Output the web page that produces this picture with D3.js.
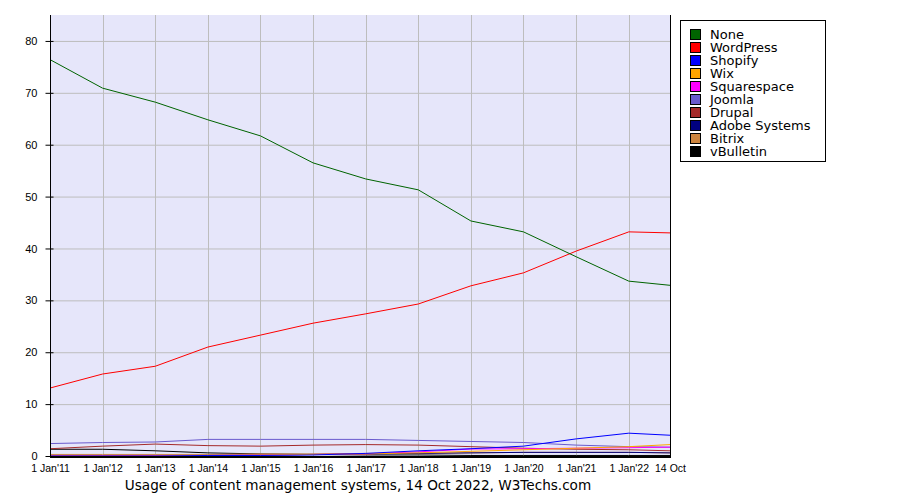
<!DOCTYPE html>
<html>
<head>
<meta charset="utf-8">
<script src="https://cdn.jsdelivr.net/npm/d3@7"></script>
<style>
body { margin: 0; background: #fff; }
svg { display: block; }
</style>
</head>
<body>
<svg id="chart" width="900" height="500"></svg>
<script>
const dates = ["2011-01-01","2012-01-01","2013-01-01","2014-01-01","2015-01-01","2016-01-01","2017-01-01","2018-01-01","2019-01-01","2020-01-01","2021-01-01","2022-01-01","2022-10-14"];
const tickLabels = ["1 Jan'11","1 Jan'12","1 Jan'13","1 Jan'14","1 Jan'15","1 Jan'16","1 Jan'17","1 Jan'18","1 Jan'19","1 Jan'20","1 Jan'21","1 Jan'22","14 Oct"];
const yTicks = [0,10,20,30,40,50,60,70,80];
const seriesNames = ["None","WordPress","Shopify","Wix","Squarespace","Joomla","Drupal","Adobe Systems","Bitrix","vBulletin"];
const seriesColors = ["#006400","#ff0000","#0000ff","#ffa500","#ff00ff","#6a5acd","#a52a2a","#000080","#cd853f","#000000"];
const none        = [76.4,70.9,68.2,64.8,61.7,56.5,53.4,51.3,45.3,43.2,38.4,33.7,32.9];
const wordpress   = [13.1,15.8,17.3,21.0,23.3,25.6,27.4,29.3,32.8,35.3,39.5,43.2,43.0];
const shopify     = [0.0,0.0,0.0,0.1,0.1,0.2,0.5,1.0,1.4,1.9,3.3,4.4,4.0];
const wix         = [0.0,0.0,0.0,0.1,0.2,0.3,0.4,0.6,0.9,1.2,1.5,1.8,2.2];
const squarespace = [0.1,0.1,0.1,0.1,0.2,0.3,0.4,0.8,1.35,1.4,1.5,1.6,1.7];
const joomla      = [2.4,2.6,2.7,3.2,3.2,3.2,3.2,3.0,2.8,2.6,2.1,1.8,1.7];
const drupal      = [1.4,1.9,2.3,2.0,1.9,2.1,2.2,2.1,1.8,1.5,1.3,1.2,1.0];
const adobe       = [0.0,0.0,0.0,0.1,0.2,0.3,0.4,0.5,0.6,0.7,0.7,0.7,0.6];
const bitrix      = [0.3,0.3,0.3,0.3,0.4,0.4,0.5,0.5,0.6,0.7,0.7,0.7,0.6];
const vbulletin   = [1.3,1.3,1.0,0.6,0.4,0.3,0.2,0.2,0.1,0.1,0.1,0.1,0.1];
const seriesValues = [none,wordpress,shopify,wix,squarespace,joomla,drupal,adobe,bitrix,vbulletin];
const title = "Usage of content management systems, 14 Oct 2022, W3Techs.com";

const parse = d3.timeParse("%Y-%m-%d");
const xDates = dates.map(parse);
const svg = d3.select("#chart");
const L = 50, R = 670, T = 15, B = 456;
const x = d3.scaleTime().domain([xDates[0], xDates[xDates.length-1]]).range([L, R]);
const y = d3.scaleLinear().domain([0, 85]).range([B, T]);

svg.append("rect").attr("x", L).attr("y", T).attr("width", R-L).attr("height", B-T).attr("fill", "#e6e6fa");

// grid
svg.append("g").selectAll("line").data(yTicks.slice(1)).join("line")
  .attr("x1", L).attr("x2", R).attr("y1", d => y(d)+0.5).attr("y2", d => y(d)+0.5)
  .attr("stroke", "#bdbdbd").attr("stroke-width", 1);
svg.append("g").selectAll("line").data(xDates.slice(1, -1)).join("line")
  .attr("x1", d => Math.round(x(d))+0.5).attr("x2", d => Math.round(x(d))+0.5).attr("y1", T).attr("y2", B)
  .attr("stroke", "#bdbdbd").attr("stroke-width", 1);

// lines
const line = d3.line().x((d,i) => x(xDates[i])).y(d => y(d));
const order = d3.range(seriesNames.length).reverse();
svg.append("g").selectAll("path").data(order).join("path")
  .attr("d", i => line(seriesValues[i]))
  .attr("fill", "none").attr("stroke", i => seriesColors[i]).attr("stroke-width", 1);

// axes
const yAxis = d3.axisLeft(y).tickValues(yTicks).tickSize(5).tickPadding(8);
const gy = svg.append("g").attr("transform", `translate(${L+0.5},0)`).call(yAxis);
gy.select(".domain").remove();
gy.selectAll(".tick line").attr("x1", -5).attr("x2", 3).attr("stroke", "#000");
gy.selectAll(".tick text").attr("font-family", "Liberation Sans, Arial, sans-serif").attr("font-size", 11).attr("fill", "#000").attr("x", -13);
svg.append("line").attr("x1", L+0.5).attr("x2", L+0.5).attr("y1", T).attr("y2", B+1).attr("stroke", "#000");
svg.append("line").attr("x1", R+0.5).attr("x2", R+0.5).attr("y1", T).attr("y2", B+1).attr("stroke", "#000");

const xAxis = d3.axisBottom(x).tickValues(xDates).tickFormat((d,i) => tickLabels[i]).tickSize(0).tickPadding(9);
const gx = svg.append("g").attr("transform", `translate(0,${B})`).call(xAxis);
gx.select(".domain").remove();
gx.selectAll(".tick text").attr("font-family", "Liberation Sans, Arial, sans-serif").attr("font-size", 10.5).attr("fill", "#000");
svg.append("line").attr("x1", L).attr("x2", R+1).attr("y1", B+1).attr("y2", B+1).attr("stroke", "#000").attr("stroke-width", 2);
gx.selectAll(".tick").append("line").attr("x1", 0.5).attr("x2", 0.5).attr("y1", 0).attr("y2", 2).attr("stroke", "#fff");

// title
svg.append("text").attr("x", 358).attr("y", 490).attr("text-anchor", "middle")
  .attr("font-family", "DejaVu Sans, Verdana, sans-serif").attr("font-size", 13.6).attr("fill", "#000").text(title);

// legend
const lg = svg.append("g");
lg.append("rect").attr("x", 680.5).attr("y", 20.5).attr("width", 145).attr("height", 141)
  .attr("fill", "#fff").attr("stroke", "#000");
const items = lg.selectAll("g.item").data(seriesNames).join("g").attr("class", "item")
  .attr("transform", (d,i) => `translate(0,${29 + i*13})`);
items.append("rect").attr("x", 690.5).attr("y", 0.5).attr("width", 10).attr("height", 10)
  .attr("fill", (d,i) => seriesColors[i]).attr("stroke", "#000");
items.append("text").attr("x", 710).attr("y", 10).attr("font-family", "DejaVu Sans, Verdana, sans-serif")
  .attr("font-size", 13).attr("fill", "#000").text(d => d);
</script>
</body>
</html>
